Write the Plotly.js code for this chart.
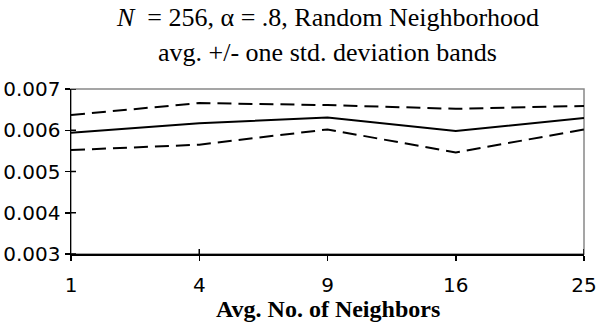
<!DOCTYPE html>
<html>
<head>
<meta charset="utf-8">
<script src="https://cdn.plot.ly/plotly-3.0.1.min.js"></script>
<style>html,body{margin:0;padding:0;background:#fff;}#chart{width:597px;height:322px;}</style>
</head>
<body>
<div id="chart"></div>
<script>
const categories = ['1', '4', '9', '16', '25'];
const avgValues = [0.00594, 0.00617, 0.00631, 0.00598, 0.00630];
const upperBand = [0.00637, 0.00666, 0.00661, 0.00652, 0.00659];
const lowerBand = [0.00552, 0.00565, 0.00602, 0.00546, 0.00602];
const yTicks = [0.003, 0.004, 0.005, 0.006, 0.007];
const titleLine1 = '<i>N</i>  = 256, α = .8, Random Neighborhood';
const titleLine2 = 'avg. +/- one std. deviation bands';
const xTitle = '<b>Avg. No. of Neighbors</b>';

const traces = [
  {x: categories, y: upperBand, type: 'scatter', mode: 'lines', line: {color: '#000', width: 2, dash: '14px,7px'}, hoverinfo: 'skip'},
  {x: categories, y: avgValues, type: 'scatter', mode: 'lines', line: {color: '#000', width: 2}, hoverinfo: 'skip'},
  {x: categories, y: lowerBand, type: 'scatter', mode: 'lines', line: {color: '#000', width: 2, dash: '14px,7px'}, hoverinfo: 'skip'}
];

const serif = 'Liberation Serif, Times New Roman, serif';
const sans = 'DejaVu Sans, sans-serif';

// inner halves of the crossing tick marks
const tickShapes = [];
categories.forEach(c => tickShapes.push({
  type: 'line', xref: 'x', yref: 'paper', ysizemode: 'pixel', yanchor: 0,
  x0: c, x1: c, y0: 0, y1: 5, line: {color: '#000', width: 1.5}
}));
yTicks.forEach(v => tickShapes.push({
  type: 'line', xref: 'paper', yref: 'y', xsizemode: 'pixel', xanchor: 0,
  x0: 0, x1: 5, y0: v, y1: v, line: {color: '#000', width: 1.5}
}));

const layout = {
  width: 597, height: 322,
  margin: {l: 71, r: 13, t: 89, b: 68},
  paper_bgcolor: '#fff', plot_bgcolor: '#fff',
  showlegend: false,
  xaxis: {
    type: 'category', categoryorder: 'array', categoryarray: categories,
    range: [0, categories.length - 1],
    showline: true, linecolor: '#000', linewidth: 1.5,
    ticks: 'outside', ticklen: 5, tickcolor: '#000', tickwidth: 1.5,
    showgrid: false, zeroline: false,
    tickfont: {family: sans, size: 20, color: '#000'},
    ticklabelstandoff: 7
  },
  yaxis: {
    range: [0.003, 0.007],
    tickvals: yTicks, tickformat: '.3f',
    showline: true, linecolor: '#000', linewidth: 1.5,
    ticks: 'outside', ticklen: 5, tickcolor: '#000', tickwidth: 1.5,
    showgrid: false, zeroline: false,
    tickfont: {family: sans, size: 20, color: '#000'}
  },
  shapes: [
    {type: 'rect', xref: 'paper', yref: 'paper', x0: 0, x1: 1, y0: 0, y1: 1, line: {color: '#888', width: 1.5}, layer: 'below'}
  ].concat(tickShapes),
  annotations: [
    {text: titleLine1, xref: 'paper', yref: 'paper', x: 0.5, y: 1, yshift: 72, xanchor: 'center', yanchor: 'middle', showarrow: false, font: {family: serif, size: 26, color: '#000'}},
    {text: titleLine2, xref: 'paper', yref: 'paper', x: 0.5, y: 1, yshift: 37, xanchor: 'center', yanchor: 'middle', showarrow: false, font: {family: serif, size: 26, color: '#000'}},
    {text: xTitle, xref: 'paper', yref: 'paper', x: 0.5, y: 0, yshift: -55, xanchor: 'center', yanchor: 'middle', showarrow: false, font: {family: serif, size: 24, color: '#000'}}
  ]
};

Plotly.newPlot('chart', traces, layout, {staticPlot: true, displayModeBar: false});
</script>
</body>
</html>
